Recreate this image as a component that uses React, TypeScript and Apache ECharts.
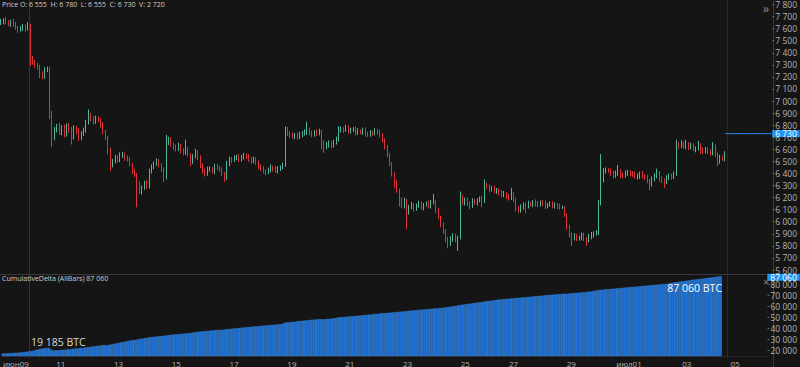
import React, { useEffect, useRef } from 'react';
import * as echarts from 'echarts';

// 2-hour BTC candles, 9 Jun -> 4 Jul
const firstOpen = 7650;
const closes = [
  7660, 7670, 7650, 7640, 7660, 7630, 7610, 7590, 7600, 7620, 7600, 7630,
  7350, 7320, 7300, 7280, 7220, 7200, 7260, 7270, 6900, 6700, 6760, 6790,
  6740, 6780, 6720, 6800, 6760, 6700, 6780, 6750, 6690, 6730, 6760, 6820,
  6880, 6850, 6830, 6860, 6840, 6800, 6750, 6700, 6600, 6470, 6500, 6530,
  6510, 6550, 6560, 6530, 6520, 6480, 6420, 6390, 6310, 6250, 6280, 6320,
  6290, 6420, 6460, 6480, 6500, 6470, 6440, 6370, 6650, 6680, 6640, 6620,
  6600, 6630, 6590, 6570, 6600, 6560, 6500, 6540, 6580, 6530, 6470, 6420,
  6400, 6430, 6440, 6420, 6460, 6450, 6430, 6400, 6360, 6480, 6520, 6510,
  6530, 6540, 6520, 6530, 6550, 6540, 6520, 6500, 6520, 6490, 6460, 6440,
  6420, 6410, 6430, 6450, 6440, 6420, 6440, 6450, 6470, 6760, 6730, 6720,
  6710, 6720, 6700, 6720, 6730, 6740, 6760, 6740, 6720, 6740, 6730, 6750,
  6660, 6620, 6640, 6650, 6630, 6660, 6680, 6760, 6770, 6760, 6780, 6750,
  6760, 6770, 6740, 6750, 6740, 6760, 6730, 6720, 6740, 6730, 6750, 6740,
  6720, 6680, 6620, 6560, 6480, 6400, 6330, 6260, 6150, 6130, 6180, 6080,
  6120, 6140, 6110, 6130, 6150, 6120, 6140, 6150, 6130, 6160, 6170, 6100,
  6040, 5980, 5920, 5860, 5820, 5860, 5880, 5850, 5870, 6200, 6160, 6180,
  6150, 6130, 6170, 6160, 6180, 6190, 6170, 6300, 6290, 6270, 6280, 6250,
  6260, 6240, 6220, 6230, 6210, 6200, 6230, 6190, 6110, 6090, 6120, 6140,
  6130, 6150, 6140, 6160, 6150, 6140, 6160, 6150, 6130, 6140, 6150, 6130,
  6140, 6130, 6120, 6120, 6060, 5960, 5890, 5870, 5880, 5860, 5870, 5890,
  5860, 5850, 5880, 5890, 5900, 5910, 6150, 6350, 6420, 6430, 6420, 6400,
  6380, 6400, 6420, 6390, 6380, 6400, 6410, 6400, 6390, 6370, 6380, 6400,
  6380, 6370, 6340, 6310, 6350, 6380, 6400, 6360, 6340, 6330, 6360, 6380,
  6370, 6400, 6640, 6630, 6650, 6620, 6640, 6620, 6630, 6600, 6610, 6630,
  6590, 6580, 6600, 6580, 6570, 6620, 6560, 6500, 6530, 6520, 6560,
];
const upWick = [
  20, 15, 25, 20, 15, 20, 25, 15, 20, 20, 15, 25,
  10, 25, 20, 15, 20, 25, 20, 15, 10, 20, 25, 20,
  30, 20, 25, 15, 20, 25, 20, 15, 25, 20, 20, 25,
  50, 20, 25, 20, 15, 20, 25, 10, 10, 15, 20, 25,
  20, 25, 20, 15, 20, 15, 10, 20, 15, 25, 20, 20,
  25, 20, 15, 20, 25, 20, 15, 10, 70, 25, 20, 15,
  20, 25, 15, 20, 80, 20, 10, 20, 25, 15, 20, 15,
  20, 25, 20, 15, 20, 20, 15, 20, 10, 25, 20, 15,
  20, 15, 20, 25, 20, 15, 20, 15, 20, 15, 20, 15,
  20, 15, 20, 25, 15, 20, 20, 15, 20, 30, 25, 20,
  20, 15, 20, 25, 20, 25, 70, 20, 15, 20, 25, 20,
  10, 15, 20, 25, 20, 20, 25, 30, 20, 15, 25, 20,
  20, 15, 20, 25, 15, 20, 20, 15, 20, 15, 25, 20,
  20, 15, 10, 15, 10, 15, 10, 20, 15, 50, 20, 10,
  20, 25, 15, 20, 25, 20, 15, 20, 25, 20, 60, 10,
  15, 10, 15, 20, 15, 20, 25, 20, 15, 50, 25, 20,
  20, 15, 25, 20, 15, 20, 20, 50, 25, 20, 15, 20,
  20, 15, 20, 25, 15, 20, 50, 15, 10, 20, 25, 20,
  20, 25, 15, 20, 25, 20, 15, 20, 25, 15, 20, 20,
  20, 15, 20, 15, 10, 10, 15, 20, 25, 20, 15, 20,
  20, 15, 20, 25, 20, 20, 30, 210, 25, 20, 15, 20,
  20, 25, 50, 15, 20, 25, 20, 15, 20, 25, 20, 15,
  20, 15, 20, 15, 25, 20, 40, 20, 15, 20, 25, 20,
  20, 15, 40, 20, 25, 15, 40, 20, 25, 20, 15, 40,
  20, 25, 20, 15, 20, 40, 20, 15, 25, 20, 25,
];
const dnWick = [
  20, 25, 15, 20, 25, 15, 20, 25, 15, 20, 25, 15,
  60, 20, 25, 20, 30, 20, 15, 20, 50, 80, 25, 20,
  20, 25, 20, 15, 25, 60, 20, 25, 20, 15, 20, 20,
  15, 20, 25, 20, 15, 20, 25, 20, 40, 50, 20, 15,
  20, 15, 20, 25, 20, 20, 25, 20, 190, 20, 25, 15,
  20, 15, 20, 25, 15, 20, 25, 40, 20, 15, 20, 25,
  20, 15, 25, 20, 15, 20, 40, 20, 15, 20, 25, 20,
  25, 20, 15, 20, 25, 20, 15, 20, 30, 15, 20, 25,
  15, 20, 25, 20, 15, 20, 25, 20, 15, 20, 25, 20,
  20, 25, 15, 20, 25, 15, 20, 20, 15, 15, 20, 25,
  20, 25, 20, 15, 20, 15, 20, 25, 20, 15, 20, 15,
  60, 50, 20, 25, 20, 15, 20, 15, 20, 25, 15, 20,
  20, 15, 25, 20, 15, 20, 25, 20, 15, 20, 15, 20,
  20, 25, 20, 25, 20, 25, 50, 20, 25, 15, 20, 140,
  20, 15, 25, 20, 15, 20, 25, 15, 20, 20, 15, 25,
  20, 25, 20, 30, 40, 20, 25, 20, 90, 15, 20, 25,
  20, 25, 15, 20, 25, 20, 50, 15, 20, 25, 20, 15,
  20, 25, 20, 15, 20, 25, 20, 30, 25, 20, 15, 20,
  60, 20, 15, 20, 25, 20, 15, 20, 25, 20, 15, 20,
  20, 25, 20, 15, 20, 25, 20, 70, 25, 20, 15, 25,
  20, 50, 20, 25, 20, 15, 20, 15, 25, 20, 15, 20,
  20, 15, 20, 25, 20, 15, 20, 25, 20, 15, 20, 25,
  20, 25, 20, 50, 20, 15, 20, 25, 20, 50, 20, 15,
  20, 15, 20, 25, 20, 15, 20, 25, 20, 15, 25, 20,
  25, 20, 15, 20, 25, 20, 25, 40, 20, 15, 20,
];
const cumDelta = [
  17000, 17100, 17300, 17200, 17500, 17600, 17700, 17900, 18100, 18300, 18600, 18900,
  19185, 19800, 20400, 20900, 21300, 21700, 21900, 22000, 20600, 19800, 19700, 19900,
  20100, 20300, 20500, 20700, 20900, 21200, 21400, 21600, 21800, 22000, 22300, 22600,
  22900, 23200, 23500, 23800, 24100, 24400, 24600, 24500, 24700, 25200, 25700, 26100,
  26600, 27000, 27400, 27800, 28300, 28800, 29100, 29400, 29800, 30200, 30500, 30900,
  31300, 31700, 31900, 32200, 32500, 32700, 32900, 33100, 33500, 33800, 34000, 34200,
  34400, 34600, 34800, 35000, 35200, 35400, 35700, 36000, 36300, 36700, 36900, 37100,
  37300, 37500, 37700, 37900, 38100, 38300, 38500, 38400, 38700, 39000, 39300, 39500,
  39700, 39900, 40100, 40400, 40600, 40800, 41000, 41200, 41400, 41600, 41800, 42000,
  42200, 42400, 42600, 42800, 43000, 43200, 43400, 43600, 43800, 44900, 45200, 45400,
  45600, 45800, 46100, 46400, 46600, 46800, 47100, 47300, 47500, 47700, 47900, 48200,
  48100, 48000, 48200, 48400, 48600, 48800, 49100, 49600, 49800, 50000, 50200, 50400,
  50600, 50800, 51000, 51200, 51400, 51600, 51800, 52000, 52200, 52400, 52700, 52900,
  53100, 53400, 53600, 53700, 53900, 54100, 54300, 54500, 54700, 54900, 55100, 55300,
  55500, 55800, 56000, 56200, 56400, 56600, 56800, 57000, 57200, 57400, 57600, 57800,
  58000, 58200, 58400, 58600, 58900, 59200, 59500, 59800, 60100, 60700, 61000, 61300,
  61600, 61900, 62200, 62500, 62800, 63100, 63400, 63700, 64100, 64400, 64700, 65000,
  65300, 65700, 65900, 66100, 66300, 66500, 66700, 66900, 67100, 67300, 67500, 67700,
  67900, 68100, 68300, 68500, 68700, 68900, 69100, 69300, 69500, 69700, 69900, 70100,
  70300, 70500, 70700, 70900, 71000, 71100, 71200, 71400, 71600, 71800, 72000, 72200,
  72400, 72600, 72800, 73000, 73200, 73400, 74000, 74500, 74700, 74900, 75100, 75300,
  75500, 75700, 75900, 76100, 76300, 76500, 76700, 76900, 77100, 77300, 77500, 77700,
  77900, 78100, 78300, 78500, 78700, 78900, 79100, 79300, 79500, 79700, 79900, 80100,
  80300, 80500, 81300, 81600, 81900, 82200, 82500, 82800, 83100, 83400, 83700, 84000,
  84200, 84500, 84800, 85100, 85400, 85700, 86000, 86300, 86600, 86800, 87060,
];
const futureBars = 19;
const xTickIndex = [0, 24, 48, 72, 96, 120, 144, 168, 192, 212, 236, 260, 284, 304];
const xTickText = ['июн09', '11', '13', '15', '17', '19', '21', '23', '25', '27', '29', 'июл01', '03', '05'];
const priceTicks = [5600, 5700, 5800, 5900, 6000, 6100, 6200, 6300, 6400, 6500, 6600, 6700, 6800, 6900, 7000, 7100, 7200, 7300, 7400, 7500, 7600, 7700, 7800];
const deltaTicks = [20000, 30000, 40000, 50000, 60000, 70000, 80000];
const lastPrice = 6730;
const lastDelta = 87060;
const startDelta = 19185;
const headerText = 'Price O: 6 555  H: 6 780  L: 6 555  C: 6 730  V: 2 720';

const fmt = (v: number) => String(Math.round(v)).replace(/\B(?=(\d{3})+(?!\d))/g, ' ');

const BG = '#151515';
const FONT = '"Open Sans", "Noto Sans", sans-serif';
const UP = '#4db89c';
const DOWN = '#dd3439';
const BLUE = '#2196f3';

export default function App() {
  const ref = useRef<HTMLDivElement>(null);
  useEffect(() => {
    document.body.style.margin = '0';
    document.body.style.background = BG;
    const chart = echarts.init(ref.current!, null, { renderer: 'svg' });
    const n = closes.length;
    const categories = Array.from({ length: n + futureBars }, (_, i) => String(i));
    const candles = closes.map((c, i) => {
      const o = i === 0 ? firstOpen : closes[i - 1];
      return [o, c, Math.min(o, c) - dnWick[i], Math.max(o, c) + upWick[i]];
    });
    const tickMap: Record<number, string> = {};
    xTickIndex.forEach((idx, k) => (tickMap[idx] = xTickText[k]));
    const lastIdx = n - 1;
    // price / delta level lines from the last bar into the empty right area
    const priceLine = categories.map((_, i) => (i >= lastIdx ? lastPrice : null));
    const deltaLine = categories.map((_, i) => (i >= lastIdx ? lastDelta : null));

    const axisLabelBase = { color: '#b4b4b4', fontSize: 8.5, fontFamily: FONT, margin: 3 };
    const boxLabel = {
      show: true, distance: 1,
      backgroundColor: BLUE, color: '#fff', fontSize: 8.5, fontFamily: FONT, padding: [0, 3, 0, 3], lineHeight: 7,
    };

    chart.setOption({
      animation: false,
      backgroundColor: BG,
      grid: [
        { left: 0, top: 0, width: 773, height: 274 },
        { left: 0, top: 275, width: 773, height: 83 },
      ],
      xAxis: [
        {
          type: 'category', gridIndex: 0, data: categories, boundaryGap: true,
          axisLine: { show: false }, axisTick: { show: false }, axisLabel: { show: false }, splitLine: { show: false },
        },
        {
          type: 'category', gridIndex: 1, data: categories, boundaryGap: true,
          axisLine: { show: true, lineStyle: { color: '#252525' } }, axisTick: { show: false }, splitLine: { show: false },
          axisLabel: {
            color: '#b4b4b4', fontSize: 8, fontFamily: FONT, margin: 3,
            interval: (index: number) => tickMap[index] !== undefined,
            formatter: (_v: string, index: number) => tickMap[index] ?? '',
            alignMinLabel: 'left',
          },
        },
      ],
      yAxis: [
        {
          type: 'value', gridIndex: 0, position: 'right', min: 5567, max: 7833, scale: true,
          axisLine: { show: false }, splitLine: { show: false },
          axisTick: { show: true, length: 2, lineStyle: { color: '#666' }, customValues: priceTicks },
          axisLabel: { ...axisLabelBase, customValues: priceTicks, formatter: (v: number) => fmt(v) },
        },
        {
          type: 'value', gridIndex: 1, position: 'right', min: 14700, max: 88200, scale: true,
          axisLine: { show: false }, splitLine: { show: false },
          axisTick: { show: true, length: 2, lineStyle: { color: '#666' }, customValues: deltaTicks },
          axisLabel: { ...axisLabelBase, customValues: deltaTicks, formatter: (v: number) => fmt(v) },
        },
      ],
      series: [
        {
          type: 'candlestick', xAxisIndex: 0, yAxisIndex: 0, data: candles, barWidth: 1,
          itemStyle: { color: UP, color0: DOWN, borderColor: UP, borderColor0: DOWN, borderWidth: 1 },
        },
        {
          type: 'line', xAxisIndex: 0, yAxisIndex: 0, data: priceLine, symbol: 'none', silent: true, z: 5,
          lineStyle: { color: '#2a8ff0', width: 1 }, itemStyle: { color: '#2a8ff0' },
          endLabel: { ...boxLabel, formatter: () => fmt(lastPrice) },
        },
        {
          type: 'bar', xAxisIndex: 1, yAxisIndex: 1, data: cumDelta, barCategoryGap: '0%',
          itemStyle: { color: '#1f6fcf', borderColor: '#3d89de', borderWidth: 0.4 },
        },
        {
          type: 'line', xAxisIndex: 1, yAxisIndex: 1, data: deltaLine, symbol: 'none', silent: true, z: 5,
          lineStyle: { opacity: 0 }, itemStyle: { color: BLUE },
          endLabel: { ...boxLabel, offset: [0, 1], formatter: () => fmt(lastDelta) },
        },
      ],
      graphic: [
        { type: 'line', silent: true, z: 0, shape: { x1: 0, y1: 274.5, x2: 800, y2: 274.5 }, style: { stroke: '#3a3a3a', lineWidth: 1 } },
        { type: 'line', silent: true, z: 0, shape: { x1: 773.5, y1: 0, x2: 773.5, y2: 367 }, style: { stroke: '#3a3a3a', lineWidth: 1 } },
        { type: 'line', silent: true, z: 0, shape: { x1: 29.5, y1: 0, x2: 29.5, y2: 358 }, style: { stroke: '#353535', lineWidth: 1 } },
        { type: 'line', silent: true, z: 0, shape: { x1: 727.5, y1: 0, x2: 727.5, y2: 358 }, style: { stroke: '#2a2a2a', lineWidth: 1 } },
        { type: 'text', silent: true, z: 20, style: { text: headerText, x: 2, y: 4.5, fill: '#cfcfcf', fontSize: 7, fontFamily: FONT, verticalAlign: 'middle', align: 'left' } },
        { type: 'text', silent: true, z: 20, style: { text: 'CumulativeDelta (AllBars) ' + fmt(lastDelta), x: 2, y: 278, fill: '#cfcfcf', fontSize: 7, fontFamily: FONT, verticalAlign: 'middle', align: 'left' } },
        { type: 'text', silent: true, z: 20, style: { text: fmt(startDelta) + ' BTC', x: 31, y: 341.5, fill: '#d8d8d8', fontSize: 10.5, fontFamily: FONT, verticalAlign: 'middle', align: 'left' } },
        { type: 'text', silent: true, z: 20, style: { text: fmt(lastDelta) + ' BTC', x: 722, y: 288, fill: '#ffffff', fontSize: 10.5, fontFamily: FONT, verticalAlign: 'middle', align: 'right' } },
        { type: 'text', silent: true, z: 20, style: { text: '»', x: 766, y: 8, fill: '#8a8a8a', fontSize: 13, fontFamily: FONT, verticalAlign: 'middle', align: 'center' } },
        { type: 'text', silent: true, z: 20, style: { text: '×', x: 766, y: 281.5, fill: '#8a8a8a', fontSize: 10, fontFamily: FONT, verticalAlign: 'middle', align: 'center' } },
      ],
    });
    return () => chart.dispose();
  }, []);
  return <div ref={ref} style={{ width: 800, height: 367, background: BG }} />;
}
